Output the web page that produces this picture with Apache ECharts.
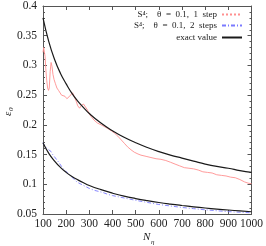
<!DOCTYPE html>
<html><head><meta charset="utf-8">
<script src="https://cdn.jsdelivr.net/npm/echarts@6/dist/echarts.min.js"></script>
<style>html,body{margin:0;padding:0;background:#fff}#c{width:266px;height:246px}</style>
</head><body><div id="c"></div>
<script>
const exactN = [100,125,150,175,200,225,250,275,300,350,400,450,500,550,600,650,700,750,800,850,900,950,1000];
const exactUpper = [0.380,0.340,0.310,0.287,0.269,0.253,0.240,0.229,0.219,0.203,0.190,0.179,0.170,0.162,0.155,0.149,0.144,0.139,0.134,0.130,0.127,0.123,0.120];
const exactLower = [0.170,0.152,0.139,0.1285,0.120,0.113,0.1075,0.1025,0.098,0.091,0.085,0.080,0.076,0.0725,0.0694,0.0667,0.0643,0.0621,0.0601,0.0583,0.0567,0.0552,0.0538];
const oneStepN = [100,103,106,109,112,116,120,124,127,131,135,139,143,148,153,160,167,173,180,187,195,203,212,220,228,235,243,250,258,266,275,283,292,300,308,320,335,351,365,379,395,409,423,437,451,465,480,494,510,523,545,566,588,609,630,651,670,690,710,730,750,770,790,810,830,850,870,890,910,930,950,970,985,1000];
const oneStepVals = [0.322,0.330,0.332,0.315,0.295,0.275,0.262,0.258,0.262,0.290,0.305,0.298,0.285,0.276,0.270,0.262,0.258,0.255,0.250,0.247,0.248,0.244,0.247,0.250,0.254,0.252,0.240,0.232,0.228,0.233,0.235,0.232,0.225,0.218,0.214,0.208,0.203,0.200,0.197,0.194,0.190,0.186,0.181,0.175,0.169,0.163,0.158,0.154,0.151,0.149,0.147,0.145,0.143,0.142,0.140,0.137,0.134,0.131,0.128,0.127,0.126,0.124,0.121,0.120,0.119,0.116,0.115,0.114,0.112,0.111,0.108,0.104,0.102,0.101];
const twoStepN = [100,105,110,115,120,125,130,135,140,145,150,160,170,180,190,200,210,220,230,240,250,260,275,290,300,320,340,360,380,400,425,450,475,500,550,600,650,700,750,800,850,900,950,1000];
const twoStepVals = [0.170,0.166,0.163,0.161,0.159,0.158,0.156,0.155,0.151,0.148,0.146,0.141,0.136,0.130,0.125,0.121,0.118,0.114,0.110,0.106,0.103,0.101,0.098,0.095,0.093,0.090,0.088,0.086,0.083,0.081,0.079,0.077,0.075,0.073,0.0695,0.066,0.0635,0.061,0.059,0.057,0.0555,0.054,0.053,0.052];
const names = ['S\u2074;\u2003\u03b8\u2002=\u20020.1,\u20021\u2002step', 'S\u2074;\u2003\u03b8\u2002=\u20020.1,\u20022\u2002steps', 'exact value'];

const FONT = 'Liberation Serif';
const pair = (xs, ys) => xs.map((x, i) => [x, ys[i]]);
const chart = echarts.init(document.getElementById('c'), null, {renderer: 'canvas'});
const axisCommon = {
  axisLine: {show: true, lineStyle: {color: '#555', width: 1}},
  axisTick: {show: true, inside: true, length: 4, lineStyle: {color: '#555'}},
  splitLine: {show: false}
};
const legendCommon = {
  orient: 'vertical', align: 'right', right: 23, padding: 0,
  itemWidth: 20, itemHeight: 6, itemGap: 2,
  itemStyle: {color: 'transparent', borderColor: 'transparent', borderWidth: 0},
  textStyle: {fontFamily: FONT, fontSize: 9, color: '#222'}
};
chart.setOption({
  animation: false,
  backgroundColor: '#fff',
  grid: {left: 43, right: 13, top: 3, bottom: 32},
  legend: [
    Object.assign({}, legendCommon, {data: [names[0]], top: 10, lineStyle: {type: 'dotted'}}),
    Object.assign({}, legendCommon, {data: [names[1]], top: 21}),
    Object.assign({}, legendCommon, {data: [names[2]], top: 33})
  ],
  xAxis: [
    Object.assign({}, axisCommon, {type: 'value', min: 100, max: 1000, interval: 100, position: 'bottom',
      axisLabel: {fontFamily: FONT, fontSize: 11.5, color: '#222', margin: 4, formatter: v => String(v)}}),
    Object.assign({}, axisCommon, {type: 'value', min: 100, max: 1000, interval: 100, position: 'top',
      axisLabel: {show: false}})
  ],
  yAxis: [
    Object.assign({}, axisCommon, {type: 'value', min: 0.05, max: 0.4, interval: 0.05, position: 'left',
      minorTick: {show: true, splitNumber: 5, length: 2, lineStyle: {color: '#555'}},
      axisLabel: {fontFamily: FONT, fontSize: 11.5, color: '#222', margin: 6, formatter: v => String(+v.toFixed(2))}}),
    Object.assign({}, axisCommon, {type: 'value', min: 0.05, max: 0.4, interval: 0.05, position: 'right',
      minorTick: {show: true, splitNumber: 5, length: 2, lineStyle: {color: '#555'}},
      axisLabel: {show: false}})
  ],
  graphic: [
    {type: 'text', left: 143, top: 232, style: {text: 'N', font: 'italic 11px "Liberation Serif"', fill: '#222'}},
    {type: 'text', left: 151, top: 239, style: {text: '\u03b7', font: 'italic 7px "Liberation Serif"', fill: '#222'}},
    {type: 'group', x: 3, y: 116, rotation: Math.PI / 2, children: [
      {type: 'text', x: 0, y: 0, style: {text: '\u03b5', font: 'italic 11px "Liberation Serif"', fill: '#222'}},
      {type: 'text', x: 5, y: 5, style: {text: '0', font: 'italic 7px "Liberation Serif"', fill: '#222'}}
    ]}
  ],
  series: [
    {name: names[0], type: 'line', symbol: 'none', data: pair(oneStepN, oneStepVals),
      lineStyle: {color: '#ff9090', width: 0.9}, itemStyle: {color: '#ff9090'}},
    {name: names[1], type: 'line', symbol: 'none', data: pair(twoStepN, twoStepVals),
      lineStyle: {color: '#7a7aff', width: 0.9, type: [4, 2, 1, 2]}, itemStyle: {color: '#7a7aff'}},
    {name: names[2], type: 'line', symbol: 'none', smooth: true, data: pair(exactN, exactUpper),
      lineStyle: {color: '#1a1a1a', width: 1.2}, itemStyle: {color: '#1a1a1a'}},
    {name: names[2], type: 'line', symbol: 'none', smooth: true, data: pair(exactN, exactLower),
      lineStyle: {color: '#1a1a1a', width: 1.2}, itemStyle: {color: '#1a1a1a'}}
  ]
});
</script></body></html>
